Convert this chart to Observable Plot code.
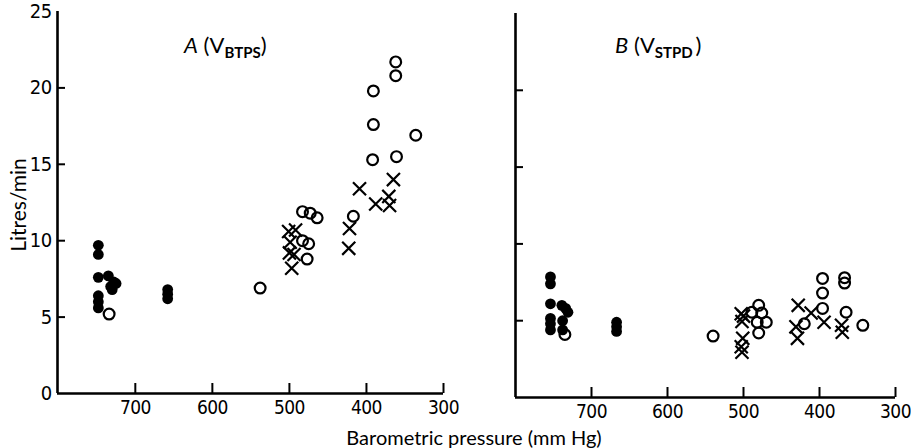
<!DOCTYPE html>
<html>
<head>
<meta charset="utf-8">
<script src="https://cdn.jsdelivr.net/npm/d3@7"></script>
<script src="https://cdn.jsdelivr.net/npm/@observablehq/plot@0.6"></script>
<style>
  html, body { margin: 0; padding: 0; background: #fff; }
  #wrap { position: relative; width: 911px; height: 448px; overflow: hidden; font-family: Lato, "Open Sans", sans-serif; color: #000; }
  #wrap svg { position: absolute; top: 0; background: none; }
  #wrap svg text { letter-spacing: -0.6px; }
  .lbl { position: absolute; white-space: nowrap; color: #000; }
  .ttl { font-size: 22px; }
  .ttl sub { font-size: 15px; font-weight: 700; vertical-align: -5px; }
</style>
</head>
<body>
<div id="wrap">
  <div class="lbl ttl" style="left:184px; top:31px;"><i>A</i> (V<sub>BTPS</sub>)</div>
  <div class="lbl ttl" style="left:615px; top:31px;"><i>B</i> (V<sub>STPD</sub>&#8201;)</div>
  <div class="lbl" style="left:17px; top:205px; font-size:21px; transform: translate(-50%,-50%) rotate(-90deg);">Litres/min</div>
  <div class="lbl" style="left:474px; top:437px; font-size:20px; line-height:20px; transform: translate(-50%,-50%);">Barometric pressure (mm Hg)</div>
</div>
<script>
// ---- Data ----
const xTicks = [700, 600, 500, 400, 300];
const yTickLabels = [0, 5, 10, 15, 20, 25];
const yTickMarks = [5, 10, 15, 20];

// Panel A: ventilation BTPS (litres/min) vs barometric pressure (mm Hg)
const filledA_p = [748, 748, 748, 748, 748, 748, 735, 728, 732, 730, 725, 658, 658, 658];
const filledA_v = [9.7, 9.1, 7.6, 6.4, 6.0, 5.6, 7.7, 7.3, 7.0, 6.8, 7.2, 6.8, 6.5, 6.2];
const openA_p = [734, 538, 483, 473, 464, 483, 475, 477, 417, 391, 391, 392, 362, 362, 361, 336];
const openA_v = [5.2, 6.9, 11.9, 11.8, 11.5, 10.0, 9.8, 8.8, 11.6, 19.8, 17.6, 15.3, 21.7, 20.8, 15.5, 16.9];
const crossA_p = [501, 492, 499, 500, 494, 497, 423, 422, 409, 388, 371, 370, 365];
const crossA_v = [10.6, 10.7, 9.9, 9.2, 9.1, 8.2, 9.5, 10.8, 13.4, 12.4, 12.9, 12.3, 14.0];

// Panel B: ventilation STPD (litres/min)
const filledB_p = [754, 754, 754, 754, 754, 754, 739, 734, 731, 738, 738, 667, 667, 667];
const filledB_v = [7.85, 7.4, 6.1, 5.15, 4.8, 4.4, 6.0, 5.8, 5.55, 5.0, 4.4, 4.9, 4.6, 4.3];
const openB_p = [735, 540, 480, 489, 476, 482, 470, 480, 420, 396, 396, 396, 367, 367, 365, 343];
const openB_v = [4.1, 4.0, 6.0, 5.55, 5.5, 4.9, 4.9, 4.2, 4.8, 7.75, 6.8, 5.8, 7.8, 7.45, 5.55, 4.7];
const crossB_p = [503, 500, 502, 501, 503, 502, 428, 411, 431, 429, 394, 371, 370];
const crossB_v = [5.45, 5.3, 4.95, 3.85, 3.3, 2.95, 6.0, 5.5, 4.6, 3.85, 4.9, 4.7, 4.25];

const toRows = (p, v) => p.map((d, i) => ({p: d, v: v[i]}));

const tickFont = '"Liberation Sans Narrow", "DejaVu Sans Condensed", Lato, sans-serif';

function panel({left, width, marginLeft, marginRight, marginTop, marginBottom, xMax, filled, open, cross, yLabels}) {
  const marks = [
    Plot.ruleX([xMax], {strokeWidth: 2.6}),
    Plot.ruleY([0], {strokeWidth: 2.6}),
    // inward tick marks (no text)
    Plot.axisX({ticks: xTicks, tickSize: -10, strokeWidth: 2, tickFormat: () => "", label: null}),
    Plot.axisY({ticks: yTickMarks, tickSize: -8, strokeWidth: 2, tickFormat: () => "", label: null}),
    // tick labels
    Plot.axisX({ticks: xTicks, tickSize: 0, tickPadding: 7, fontSize: 19, fontWeight: 500, fontFamily: tickFont, tickFormat: d => String(d), label: null}),
    Plot.dot(toRows(open.p, open.v), {x: "p", y: "v", r: 5.4, stroke: "#000", strokeWidth: 2.2, fill: "none"}),
    Plot.dot(toRows(filled.p, filled.v), {x: "p", y: "v", r: 5.4, fill: "#000", stroke: "none"}),
    Plot.dot(toRows(cross.p, cross.v), {x: "p", y: "v", symbol: "times", r: 6, stroke: "#000", strokeWidth: 2.2})
  ];
  if (yLabels) {
    marks.push(Plot.axisY({ticks: yTickLabels, tickSize: 0, tickPadding: 6, fontSize: 20, fontWeight: 500, fontFamily: tickFont, tickFormat: d => String(d), label: null}));
  }
  const svg = Plot.plot({
    width, height: 448,
    marginLeft, marginRight, marginTop, marginBottom,
    x: {domain: [xMax, 300]},
    y: {domain: [0, 25]},
    style: {background: "none", overflow: "visible", color: "#000"},
    marks
  });
  svg.style.left = left + "px";
  document.getElementById("wrap").appendChild(svg);
}

panel({
  left: 0, width: 460, marginLeft: 57, marginRight: 17, marginTop: 11, marginBottom: 55, xMax: 801,
  filled: {p: filledA_p, v: filledA_v}, open: {p: openA_p, v: openA_v}, cross: {p: crossA_p, v: crossA_v},
  yLabels: true
});
panel({
  left: 460, width: 451, marginLeft: 55, marginRight: 16, marginTop: 13, marginBottom: 51, xMax: 800,
  filled: {p: filledB_p, v: filledB_v}, open: {p: openB_p, v: openB_v}, cross: {p: crossB_p, v: crossB_v},
  yLabels: false
});
</script>
</body>
</html>
